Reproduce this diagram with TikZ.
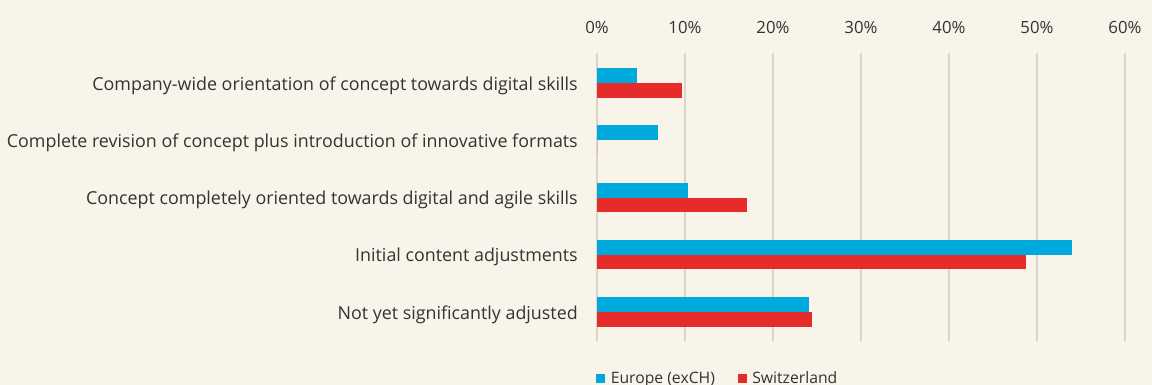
\documentclass[tikz,border=0pt]{standalone}
\usepackage{fontspec}
\setmainfont{Open Sans}
\usetikzlibrary{positioning,calc}
\definecolor{bgcream}{RGB}{248,244,233}
\definecolor{eublue}{RGB}{0,169,219}
\definecolor{chred}{RGB}{230,43,43}
\definecolor{gridgray}{RGB}{218,213,201}
\definecolor{txtgray}{RGB}{51,51,51}
\tikzset{
	chartfont/.style={text=txtgray,inner sep=0pt},
	catlabel/.style={chartfont,font=\fontsize{13.4}{15}\selectfont,anchor=base east},
	ticklabel/.style={chartfont,font=\fontsize{12.6}{14}\selectfont,anchor=base},
	leglabel/.style={chartfont,font=\fontsize{11.8}{13}\selectfont,anchor=base west},
	gridline/.style={draw=gridgray,line width=1.1pt},
	bareu/.style={fill=eublue},
	barch/.style={fill=chred},
	legsquare/.style={minimum size=6.75pt,inner sep=0pt}
}
\begin{document}
\begin{tikzpicture}[x=0.75pt,y=-0.75pt]
	\fill[bgcream] (0,0) rectangle (1152,385);
	\useasboundingbox (0,0) rectangle (1152,385);
	% grid and axis
	\foreach \p in {0,10,...,60}{
		\draw[gridline] ({597+8.8*\p},53) -- ({597+8.8*\p},341);
		\node[ticklabel] (tick\p) at ({597+8.8*\p},34) {\p\%};
	}
	% bars
	\foreach \i/\eu/\ch/\txt in {
		0/4.6/9.7/{Company-wide orientation of concept towards digital skills},
		1/6.9/0/{Complete revision of concept plus introduction of innovative formats},
		2/10.3/17.0/{Concept completely oriented towards digital and agile skills},
		3/54.0/48.8/{Initial content adjustments},
		4/24.1/24.4/{Not yet significantly adjusted}}{
		\coordinate (g\i) at (597,{83+57.3*\i});
		\fill[bareu] ($(g\i)+(0,-15)$) rectangle ($(g\i)+({8.8*\eu},0)$);
		\fill[barch] (g\i) rectangle ($(g\i)+({8.8*\ch},14.5)$);
		\node[catlabel] (cat\i) at ($(g\i)+(-19,7)$) {\txt};
	}
	% legend
	\node[legsquare,bareu] (sqeu) at (600.5,378) {};
	\node[leglabel] (legeu) at (610.5,383.5) {Europe (exCH)};
	\node[legsquare,barch] (sqch) at (742,378) {};
	\node[leglabel] (legch) at (752,383.5) {Switzerland};
\end{tikzpicture}
\end{document}
